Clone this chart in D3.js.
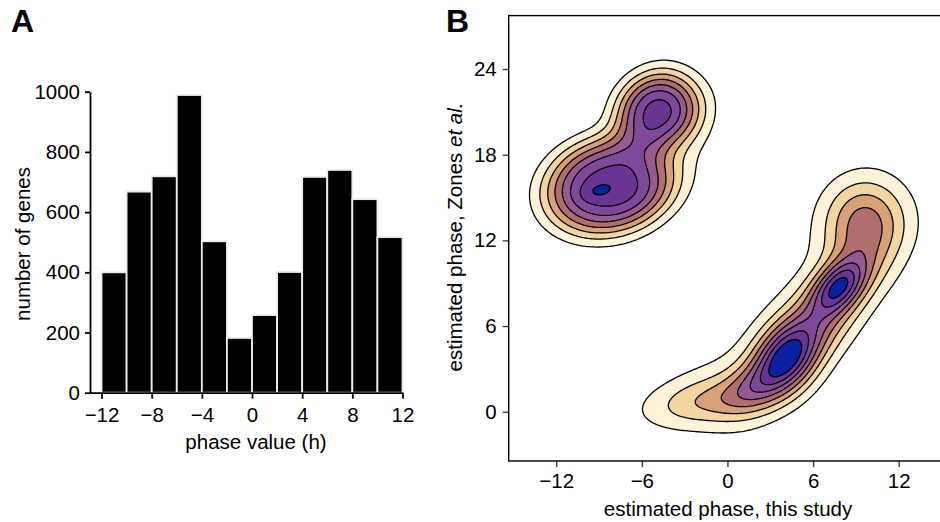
<!DOCTYPE html>
<html>
<head>
<meta charset="utf-8">
<style>
  body { margin: 0; background: white; }
  svg text { font-family: "Liberation Sans", Arial, Helvetica, sans-serif; fill: black; }
  .axis text { font-size: 20.5px; }
  .axis-a .tick line, .axis-a .domain { stroke: black; stroke-width: 1.8; }
  .axis-b .tick line { stroke: #333; stroke-width: 1.3; }
  .axis-b .domain { display: none; }
</style>
</head>
<body>
<svg class="chart" width="940" height="522"></svg>

<script src="https://d3js.org/d3.v7.min.js"></script>
<script>
  // panel A: histogram of phase values
  var binLeft = [-12, -10, -8, -6, -4, -2, 0, 2, 4, 6, 8, 10];
  var binWidth = 2;
  var geneCounts = [400, 668, 719, 989, 503, 182, 258, 401, 717, 740, 643, 517];
  var phaseTicks = [-12, -8, -4, 0, 4, 8, 12];
  var countTicks = [0, 200, 400, 600, 800, 1000];

  // panel B: density read off the picture as a few bumps
  // (centre x, centre y, spread along, spread across, angle in degrees, flatness, weight)
  var bumpX     = [-8.4, -9.0, -5.0, -2.4, -4.6,  4.1,  7.8,  5.8,  9.0,  9.6, -1.2,  2.0,  5.0, -1.8];
  var bumpY     = [15.8, 15.5, 21.1, 20.2, 15.4,  3.8,  8.8,  5.8, 10.5, 13.4,  0.7,  1.9,  6.5,  1.7];
  var bumpAlong = [ 3.5,  0.9,  2.2,  2.0,  2.5,  1.7,  1.5,  4.0,  1.6,  2.1,  3.2,  1.8,  8.0,  3.0];
  var bumpAcross= [ 2.6, 0.45,  1.9,  1.3,  1.3,  1.3, 0.95,  1.5,  1.7,  2.0, 1.15,  1.1,  3.0,  1.6];
  var bumpAngle = [  15,   15,   40,   65,   35,   55,   45,   50,   75,   90,    8,   30,   50,   20];
  var bumpShape = [ 1.5,    1, 1.25,    1,    1,    1,    1,    1,    1,    1,    1,    1,    1,    1];
  var bumpWeight= [0.82, 0.09, 0.80, 0.12, 0.08, 0.50, 0.52, 0.48, 0.07, 0.43, 0.23, 0.22, 0.08, 0.08];
  var densityLevels = [0.111, 0.222, 0.333, 0.444, 0.556, 0.667, 0.778, 0.889];
  var levelColors = ["#fef3d8", "#f3d5a1", "#d8a077", "#b06e6e", "#985890", "#80489a", "#6a3494", "#0b20a0"];
  var estTicksX = [-12, -6, 0, 6, 12];
  var estTicksY = [0, 6, 12, 18, 24];

  var chart = d3.select(".chart");
  chart.append("rect").attr("width", 940).attr("height", 522).attr("fill", "white");

  // ---------- A ----------
  var xA = d3.scaleLinear().domain([-12.92, 12]).range([90, 402.5]);
  var yA = d3.scaleLinear().domain([0, 1000]).range([392.7, 91.7]);

  chart.append("g").selectAll("rect")
      .data(binLeft)
    .enter().append("rect")
      .attr("x", function(d) { return xA(d); })
      .attr("width", function(d) { return xA(d + binWidth) - xA(d); })
      .attr("y", function(d, i) { return yA(geneCounts[i]); })
      .attr("height", function(d, i) { return yA(0) - yA(geneCounts[i]); })
      .attr("fill", "black")
      .attr("stroke", "#ececec")
      .attr("stroke-width", 1.8);

  chart.append("g")
    .attr("class", "axis axis-a")
    .attr("transform", "translate(0," + yA(0) + ")")
    .call(d3.axisBottom(xA).tickValues(phaseTicks).tickSize(6).tickSizeOuter(0).tickPadding(9));

  chart.append("g")
    .attr("class", "axis axis-a")
    .attr("transform", "translate(" + xA.range()[0] + ",0)")
    .call(d3.axisLeft(yA).tickValues(countTicks).tickFormat(d3.format("d")).tickSize(5).tickSizeOuter(0).tickPadding(5));

  chart.append("text").attr("x", 256).attr("y", 449).attr("text-anchor", "middle")
    .style("font-size", "20.5px").text("phase value (h)");
  chart.append("text").attr("transform", "translate(30,244) rotate(-90)").attr("text-anchor", "middle")
    .style("font-size", "20.5px").text("number of genes");
  chart.append("text").attr("x", 11).attr("y", 32).style("font-size", "32px").style("font-weight", "bold").text("A");

  // ---------- B ----------
  var plotLeft = 508.7, plotTop = 15.6, plotBottom = 461;
  var xB = d3.scaleLinear().domain([-15.33, 16]).range([plotLeft, plotLeft + 31.33 * 14.27]);
  var yB = d3.scaleLinear().domain([-3.45, 27.75]).range([plotBottom, plotBottom - 31.2 * 14.28]);

  function density(x, y) {
    var s = 0;
    for (var k = 0; k < bumpX.length; k++) {
      var a = bumpAngle[k] * Math.PI / 180;
      var dx = x - bumpX[k], dy = y - bumpY[k];
      var u = dx * Math.cos(a) + dy * Math.sin(a);
      var v = -dx * Math.sin(a) + dy * Math.cos(a);
      var q = u * u / (bumpAlong[k] * bumpAlong[k]) + v * v / (bumpAcross[k] * bumpAcross[k]);
      s += bumpWeight[k] * Math.exp(-0.5 * Math.pow(q, bumpShape[k]));
    }
    return s;
  }

  var step = 2;
  var nx = Math.ceil((945 - plotLeft) / step), ny = Math.ceil((plotBottom - plotTop) / step);
  var grid = new Array(nx * ny);
  for (var j = 0; j < ny; j++) {
    for (var i = 0; i < nx; i++) {
      grid[j * nx + i] = density(xB.invert(plotLeft + (i + 0.5) * step), yB.invert(plotTop + (j + 0.5) * step));
    }
  }
  var contours = d3.contours().size([nx, ny]).thresholds(densityLevels)(grid);
  var toPx = d3.geoTransform({ point: function(x, y) { this.stream.point(plotLeft + x * step, plotTop + y * step); } });

  chart.append("clipPath").attr("id", "clipB").append("rect")
    .attr("x", plotLeft).attr("y", plotTop).attr("width", 940 - plotLeft).attr("height", plotBottom - plotTop);

  chart.append("g").attr("clip-path", "url(#clipB)").selectAll("path")
      .data(contours)
    .enter().append("path")
      .attr("d", d3.geoPath(toPx))
      .attr("fill", function(d, i) { return levelColors[i]; })
      .attr("stroke", "black")
      .attr("stroke-width", 1.3)
      .attr("stroke-linejoin", "round");

  chart.append("g")
    .attr("class", "axis axis-b")
    .attr("transform", "translate(0," + plotBottom + ")")
    .call(d3.axisBottom(xB).tickValues(estTicksX).tickSize(6).tickPadding(6));

  chart.append("g")
    .attr("class", "axis axis-b")
    .attr("transform", "translate(" + plotLeft + ",0)")
    .call(d3.axisLeft(yB).tickValues(estTicksY).tickSize(6).tickPadding(6));

  chart.append("rect")
    .attr("x", plotLeft).attr("y", plotTop).attr("width", 460).attr("height", plotBottom - plotTop)
    .attr("fill", "none").attr("stroke", "black").attr("stroke-width", 1.4);

  chart.append("text").attr("x", 728).attr("y", 516).attr("text-anchor", "middle")
    .style("font-size", "20.5px").text("estimated phase, this study");
  var ylab = chart.append("text").attr("transform", "translate(462,237) rotate(-90)").attr("text-anchor", "middle")
    .style("font-size", "20.5px");
  ylab.append("tspan").text("estimated phase, Zones ");
  ylab.append("tspan").style("font-style", "italic").text("et al.");
  chart.append("text").attr("x", 446).attr("y", 32).style("font-size", "32px").style("font-weight", "bold").text("B");
</script>
</body>
</html>
